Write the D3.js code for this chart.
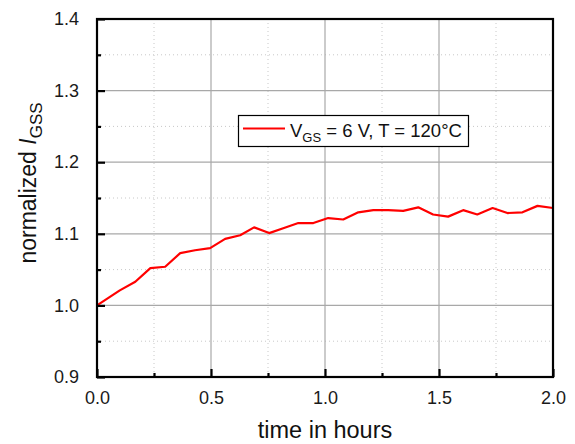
<!DOCTYPE html>
<html><head><meta charset="utf-8">
<script src="https://cdn.jsdelivr.net/npm/d3@7"></script>
<style>
body{margin:0;background:#fff;}
svg{display:block;font-family:"Liberation Sans",Arial,sans-serif;}
</style></head>
<body>
<svg id="c" width="575" height="444"></svg>
<script>
const timeHours = [0, 0.100, 0.168, 0.234, 0.299, 0.365, 0.430, 0.496, 0.562, 0.628, 0.689, 0.755, 0.820, 0.883, 0.949, 1.014, 1.080, 1.146, 1.212, 1.277, 1.343, 1.409, 1.474, 1.540, 1.606, 1.668, 1.735, 1.800, 1.866, 1.932, 2.000];
const normIgss = [1.000, 1.021, 1.033, 1.052, 1.054, 1.073, 1.077, 1.080, 1.093, 1.098, 1.109, 1.101, 1.108, 1.115, 1.115, 1.122, 1.120, 1.130, 1.133, 1.133, 1.132, 1.137, 1.127, 1.124, 1.133, 1.127, 1.136, 1.129, 1.130, 1.139, 1.136];
const xTicks = [0, 0.5, 1.0, 1.5, 2.0];
const xMinor = [0.25, 0.75, 1.25, 1.75];
const yTicks = [0.9, 1.0, 1.1, 1.2, 1.3, 1.4];
const yMinor = [0.95, 1.05, 1.15, 1.25, 1.35];
const seriesLabel = "V_GS = 6 V, T = 120°C";

const svg = d3.select("#c");
const L = 97, R = 553, T = 19, B = 377;
const x = d3.scaleLinear().domain([0, 2]).range([L, R]);
const y = d3.scaleLinear().domain([0.9, 1.4]).range([B, T]);

// minor grid (dotted)
const g = svg.append("g");
g.selectAll(".mx").data(xMinor).join("line")
  .attr("x1", d => x(d)).attr("x2", d => x(d)).attr("y1", T).attr("y2", B)
  .attr("stroke", "#c8c8c8").attr("stroke-width", 1).attr("stroke-dasharray", "1,3");
g.selectAll(".my").data(yMinor).join("line")
  .attr("y1", d => y(d)).attr("y2", d => y(d)).attr("x1", L).attr("x2", R)
  .attr("stroke", "#c8c8c8").attr("stroke-width", 1).attr("stroke-dasharray", "1,3");
// major grid
g.selectAll(".gx").data(xTicks.slice(1, -1)).join("line")
  .attr("x1", d => x(d)).attr("x2", d => x(d)).attr("y1", T).attr("y2", B)
  .attr("stroke", "#a8a8a8").attr("stroke-width", 1.2);
g.selectAll(".gy").data(yTicks.slice(1, -1)).join("line")
  .attr("y1", d => y(d)).attr("y2", d => y(d)).attr("x1", L).attr("x2", R)
  .attr("stroke", "#a8a8a8").attr("stroke-width", 1.2);

// data line
const line = d3.line().x((d, i) => x(timeHours[i])).y(d => y(d));
svg.append("path").datum(normIgss).attr("d", line)
  .attr("fill", "none").attr("stroke", "#ff0000").attr("stroke-width", 2.2)
  .attr("stroke-linejoin", "round");

// frame
svg.append("rect").attr("x", L).attr("y", T).attr("width", R - L).attr("height", B - T)
  .attr("fill", "none").attr("stroke", "#000").attr("stroke-width", 2.2);

// axes with inward ticks
const xAxis = d3.axisBottom(x).tickValues(xTicks).tickFormat(d3.format(".1f")).tickSizeInner(-8).tickSizeOuter(0).tickPadding(14);
const xa = svg.append("g").attr("transform", `translate(0,${B})`).call(xAxis);
const yAxis = d3.axisLeft(y).tickValues(yTicks).tickFormat(d3.format(".1f")).tickSizeInner(-8).tickSizeOuter(0).tickPadding(18);
const ya = svg.append("g").attr("transform", `translate(${L},0)`).call(yAxis);
[xa, ya].forEach(a => {
  a.select(".domain").remove();
  a.selectAll(".tick line").attr("stroke", "#000").attr("stroke-width", 2.2);
  a.selectAll(".tick text").attr("fill", "#1a1a1a").style("font-size", "18px").style("font-family", "'Liberation Sans',Arial,sans-serif");
});
const xm = svg.append("g").attr("transform", `translate(0,${B})`).call(d3.axisBottom(x).tickValues(xMinor).tickSize(-4).tickFormat(""));
const ym = svg.append("g").attr("transform", `translate(${L},0)`).call(d3.axisLeft(y).tickValues(yMinor).tickSize(-4).tickFormat(""));
[xm, ym].forEach(a => { a.select(".domain").remove(); a.selectAll(".tick line").attr("stroke", "#000").attr("stroke-width", 2.2); });

// axis titles
svg.append("text").attr("x", (L + R) / 2).attr("y", 438).attr("text-anchor", "middle")
  .style("font-size", "23.5px").attr("fill", "#111").text("time in hours");
const yt = svg.append("text").attr("transform", `translate(36,${(T + B) / 2 - 15}) rotate(-90)`)
  .attr("text-anchor", "middle").style("font-size", "23px").attr("fill", "#111");
yt.append("tspan").text("normalized ");
yt.append("tspan").style("font-style", "italic").text("I");
yt.append("tspan").attr("dy", 6).style("font-size", "17px").text("GSS");

// legend
const lg = svg.append("g");
lg.append("rect").attr("x", 238.5).attr("y", 115.5).attr("width", 230).attr("height", 31)
  .attr("fill", "#fff").attr("stroke", "#000").attr("stroke-width", 1.2);
lg.append("line").attr("x1", 243).attr("x2", 285).attr("y1", 128.5).attr("y2", 128.5)
  .attr("stroke", "#ff0000").attr("stroke-width", 2.2);
const parts = seriesLabel.split(" = ");
const lt = lg.append("text").attr("x", 290).attr("y", 136.5).style("font-size", "18.5px").attr("fill", "#111");
lt.append("tspan").text(parts[0].split("_")[0]);
lt.append("tspan").attr("dy", 5).style("font-size", "13px").text(parts[0].split("_")[1]);
lt.append("tspan").attr("dy", -5).text(" = " + parts.slice(1).join(" = "));
</script>
</body></html>
